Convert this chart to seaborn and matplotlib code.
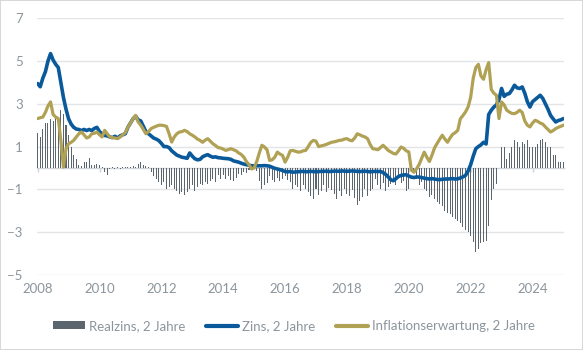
import numpy as np
import pandas as pd
import matplotlib
matplotlib.use("Agg")
import matplotlib.pyplot as plt
import seaborn as sns
from matplotlib.patches import Patch
from matplotlib.lines import Line2D

# ---------------- data (monthly, Jan 2008 .. Jan 2025) ----------------
start_year = 2008
zins = [
    3.95, 3.80, 4.20, 4.50, 5.00, 5.35, 5.05, 4.85, 4.70, 4.00, 3.30, 2.75,
    2.30, 2.05, 1.90, 1.82, 1.80, 1.75, 1.80, 1.75, 1.80, 1.75, 1.85, 1.90,
    1.70, 1.60, 1.52, 1.50, 1.45, 1.42, 1.48, 1.40, 1.50, 1.55, 1.60, 1.90,
    2.10, 2.30, 2.42, 2.25, 2.20, 1.95, 1.70, 1.60, 1.50, 1.40, 1.35, 1.28,
    1.15, 1.00, 1.00, 0.95, 0.80, 0.70, 0.60, 0.55, 0.50, 0.48, 0.45, 0.70,
    0.55, 0.43, 0.38, 0.40, 0.52, 0.58, 0.62, 0.55, 0.50, 0.52, 0.48, 0.47,
    0.45, 0.44, 0.43, 0.40, 0.33, 0.30, 0.27, 0.22, 0.18, 0.15, 0.13, 0.10,
    0.10, 0.10, 0.10, 0.10, 0.11, 0.10, 0.08, 0.03, -0.02, -0.05, -0.08, -0.12,
    -0.17, -0.18, -0.17, -0.20, -0.19, -0.18, -0.17, -0.16, -0.18, -0.17, -0.16, -0.17,
    -0.18, -0.17, -0.16, -0.16, -0.15, -0.17, -0.16, -0.15, -0.15, -0.16, -0.14, -0.15,
    -0.16, -0.15, -0.14, -0.15, -0.16, -0.17, -0.16, -0.15, -0.17, -0.18, -0.17, -0.16,
    -0.17, -0.16, -0.22, -0.30, -0.42, -0.55, -0.60, -0.50, -0.40, -0.35, -0.33, -0.32,
    -0.38, -0.43, -0.45, -0.42, -0.43, -0.45, -0.48, -0.50, -0.52, -0.50, -0.52, -0.54,
    -0.55, -0.53, -0.52, -0.52, -0.51, -0.50, -0.52, -0.51, -0.47, -0.42, -0.35, -0.15,
    0.15, 0.55, 0.90, 1.00, 1.08, 1.20, 1.12, 2.50, 2.70, 2.85, 2.95, 3.20,
    3.72, 3.35, 3.45, 3.48, 3.65, 3.87, 3.75, 3.72, 3.79, 3.50, 3.10, 2.85,
    3.10, 3.20, 3.30, 3.40, 3.25, 3.00, 2.75, 2.46, 2.30, 2.15, 2.22, 2.25,
    2.31,
]
inflation = [
    2.31, 2.35, 2.38, 2.60, 2.90, 3.09, 2.50, 2.38, 2.31, 1.29, 0.04, 0.90,
    1.13, 1.20, 1.29, 1.45, 1.60, 1.68, 1.55, 1.40, 1.45, 1.60, 1.62, 1.68,
    1.55, 1.45, 1.76, 1.60, 1.45, 1.42, 1.40, 1.37, 1.45, 1.55, 1.65, 1.90,
    2.10, 2.30, 2.46, 2.15, 2.00, 1.80, 1.60, 1.70, 1.84, 1.90, 1.95, 2.00,
    2.00, 1.98, 1.94, 1.60, 1.21, 1.45, 1.60, 1.68, 1.70, 1.76, 1.70, 1.60,
    1.53, 1.45, 1.35, 1.29, 1.20, 1.30, 1.37, 1.25, 1.13, 1.05, 0.95, 0.93,
    0.88, 0.82, 0.86, 0.90, 0.85, 0.80, 0.70, 0.63, 0.50, 0.30, 0.15, -0.05,
    0.00, 0.30, 0.70, 1.06, 0.98, 0.85, 0.35, 0.38, 0.50, 0.74, 0.65, 0.59,
    0.27, 0.50, 0.80, 0.82, 0.78, 0.74, 0.75, 0.80, 0.82, 1.00, 1.20, 1.29,
    1.25, 1.00, 1.03, 1.06, 1.10, 1.15, 1.20, 1.22, 1.25, 1.29, 1.30, 1.35,
    1.37, 1.30, 1.27, 1.40, 1.60, 1.55, 1.49, 1.45, 1.37, 1.10, 0.90, 0.88,
    0.85, 0.95, 1.06, 0.95, 0.82, 0.75, 0.68, 0.65, 0.80, 0.98, 0.92, 0.80,
    0.75, -0.10, -0.20, -0.05, 0.16, 0.45, 0.74, 0.50, 0.30, 0.60, 0.94, 1.15,
    1.35, 1.53, 1.35, 1.20, 1.40, 1.57, 1.65, 1.76, 2.30, 2.45, 2.62, 2.85,
    3.30, 4.20, 4.70, 4.85, 4.30, 4.15, 4.60, 4.93, 3.67, 3.50, 3.40, 2.31,
    3.09, 2.95, 2.70, 2.62, 2.55, 2.54, 2.60, 2.70, 2.60, 2.20, 2.00, 1.92,
    2.10, 2.23, 2.18, 2.10, 2.05, 1.92, 1.80, 1.68, 1.75, 1.84, 1.90, 1.95,
    2.00,
]
realzins = [
    1.65, 1.45, 1.80, 2.10, 2.10, 2.28, 2.18, 2.38, 2.31, 2.70, 2.54, 2.00,
    1.53, 0.98, 0.59, 0.40, 0.15, 0.08, 0.27, 0.27, 0.46, 0.12, 0.15, 0.20,
    0.12, 0.03, -0.20, -0.32, -0.05, 0.02, -0.04, 0.03, -0.06, 0.04, 0.02, 0.06,
    0.05, 0.08, 0.04, 0.20, 0.28, 0.12, 0.08, 0.05, -0.20, -0.40, -0.50, -0.67,
    -0.82, -0.67, -0.98, -0.90, -0.82, -0.98, -1.10, -1.21, -1.13, -1.29, -1.13, -1.00,
    -0.82, -1.06, -0.90, -0.74, -0.82, -0.67, -0.74, -0.60, -0.50, -0.67, -0.35, -0.50,
    -0.35, -0.50, -0.40, -0.55, -0.59, -0.45, -0.30, -0.35, -0.20, -0.25, -0.10, -0.05,
    -0.05, -0.15, -0.60, -0.98, -0.82, -0.70, -0.40, -0.55, -0.67, -0.45, -0.60, -0.50,
    -0.40, -0.55, -0.67, -0.98, -0.80, -0.90, -1.06, -0.82, -0.98, -1.13, -1.30, -1.45,
    -1.00, -1.29, -1.10, -0.82, -1.13, -0.95, -1.05, -1.20, -1.45, -1.10, -1.30, -1.00,
    -1.20, -1.30, -1.05, -1.40, -1.75, -1.55, -1.35, -1.00, -1.30, -1.10, -1.00, -0.50,
    -0.80, -1.00, -0.70, -1.10, -0.90, -0.75, -0.50, -0.80, -0.40, -0.70, -0.60, -1.10,
    -0.98, -0.20, -0.15, -0.50, -0.82, -0.65, -0.98, -1.10, -1.37, -1.25, -1.45, -1.60,
    -1.68, -1.80, -2.00, -2.10, -2.15, -2.30, -2.40, -2.50, -2.60, -2.75, -2.90, -3.00,
    -3.20, -3.48, -3.95, -3.80, -3.50, -3.48, -3.40, -2.70, -1.50, -0.98, -0.74, 0.00,
    1.00, 1.00, 0.40, 0.71, 1.00, 1.32, 1.21, 0.98, 1.21, 1.13, 1.29, 1.00,
    1.00, 1.00, 1.13, 1.29, 1.35, 1.21, 1.00, 0.98, 0.62, 0.62, 0.27, 0.27,
    0.27,
]
year_ticks = [2008, 2010, 2012, 2014, 2016, 2018, 2020, 2022, 2024]
y_ticks = [7, 5, 3, 1, -1, -3, -5]
labels = ["Realzins, 2 Jahre", "Zins, 2 Jahre", "Inflationserwartung, 2 Jahre"]

# ---------------- styling ----------------
C_BAR = "#5a656e"
C_BLUE = "#0a5a9b"
C_GOLD = "#b0a155"
C_TXT = "#8c959c"
C_GRID = "#e2e5e8"

sns.set_theme(style="white")
plt.rcParams["font.family"] = ["Lato", "DejaVu Sans"]

n = len(zins)
t = start_year + np.arange(n) / 12.0
df = pd.DataFrame({"t": t, "zins": zins, "infl": inflation, "real": realzins})

fig = plt.figure(figsize=(5.83, 3.5), dpi=100, facecolor="white",
                 edgecolor="#d6d9dc", linewidth=1.2)
ax = fig.add_axes([0.063, 0.215, 0.9045, 0.7325])

ax.bar(df["t"], df["real"], width=0.033, color=C_BAR, linewidth=0, zorder=2)
sns.lineplot(data=df, x="t", y="zins", ax=ax, color=C_BLUE, linewidth=2.6,
             zorder=3, legend=False)
sns.lineplot(data=df, x="t", y="infl", ax=ax, color=C_GOLD, linewidth=2.3,
             zorder=4, legend=False)

ax.set_xlim(2007.97, 2025.02)
ax.set_ylim(-5, 7)
ax.set_yticks(y_ticks)
ax.set_xticks(year_ticks)
ax.set_xticklabels([str(y) for y in year_ticks])
ax.set_xlabel("")
ax.set_ylabel("")
ax.grid(axis="y", color=C_GRID, linewidth=1.0, zorder=0)
ax.grid(axis="x", visible=False)
for s in ax.spines.values():
    s.set_visible(False)
ax.tick_params(axis="both", length=0, colors=C_TXT, labelsize=9.5)
ax.tick_params(axis="x", pad=6)
ax.tick_params(axis="y", pad=10)

# zero axis line with small tick marks
sec = ax.secondary_xaxis(5 / 12)
sec.set_xticks(year_ticks)
sec.set_xticklabels([])
sec.spines["bottom"].set_color("#cfd3d7")
sec.spines["bottom"].set_linewidth(1.0)
sec.spines["top"].set_visible(False)
sec.tick_params(axis="x", direction="out", length=3, color="#cfd3d7", width=1.0)
sec.set_zorder(1)

handles = [
    Patch(facecolor=C_BAR, edgecolor="none"),
    Line2D([0], [0], color=C_BLUE, linewidth=3.0),
    Line2D([0], [0], color=C_GOLD, linewidth=3.0),
]
leg = fig.legend(handles, labels, loc="center", bbox_to_anchor=(0.504, 0.069),
                 ncol=3, frameon=False, fontsize=9.5, handlelength=2.4,
                 handleheight=0.55, handletextpad=0.3, columnspacing=1.6)
for txt in leg.get_texts():
    txt.set_color(C_TXT)

fig.savefig("out.png", dpi=100, facecolor="white", edgecolor=fig.get_edgecolor())
